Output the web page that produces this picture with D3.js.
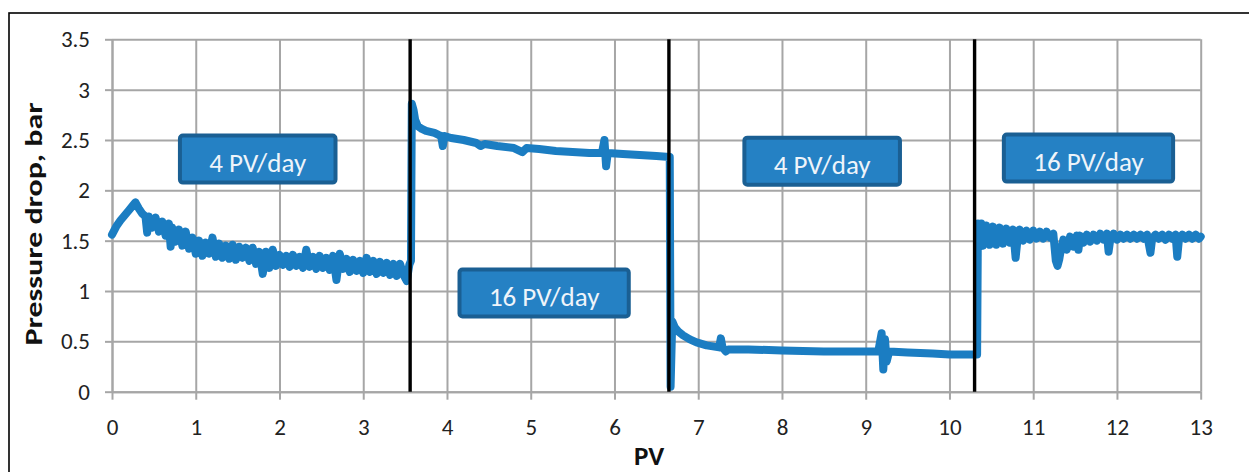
<!DOCTYPE html>
<html>
<head>
<meta charset="utf-8">
<script src="https://cdn.jsdelivr.net/npm/d3@7"></script>
<style>
    body { margin: 0; background: #fff; }
    svg { display: block; font-family: Carlito, Lato, sans-serif; }
</style>
</head>
<body>
<svg id="drawing_region"></svg>
<script>
// Pressure drop [bar] vs injected PV: [PV, bar]
const seg1 = [
    [0.00, 1.56], [0.05, 1.64], [0.10, 1.70], [0.15, 1.75], [0.20, 1.80], [0.25, 1.85], [0.28, 1.88],
    [0.32, 1.82], [0.36, 1.77], [0.40, 1.74], [0.42, 1.58], [0.44, 1.74], [0.48, 1.63], [0.52, 1.73],
    [0.56, 1.59], [0.60, 1.69], [0.64, 1.55], [0.68, 1.67], [0.70, 1.44], [0.72, 1.63], [0.76, 1.49],
    [0.80, 1.61], [0.84, 1.45], [0.88, 1.59], [0.92, 1.42], [0.96, 1.53], [1.00, 1.37], [1.04, 1.50],
    [1.08, 1.35], [1.12, 1.48], [1.16, 1.37], [1.20, 1.53], [1.24, 1.34], [1.28, 1.47], [1.32, 1.33],
    [1.36, 1.45], [1.40, 1.32], [1.44, 1.46], [1.48, 1.31], [1.52, 1.44], [1.56, 1.33], [1.60, 1.43],
    [1.64, 1.30], [1.68, 1.43], [1.72, 1.27], [1.76, 1.39], [1.80, 1.17], [1.84, 1.39], [1.88, 1.23],
    [1.92, 1.41], [1.96, 1.25], [2.00, 1.36], [2.04, 1.26], [2.08, 1.35], [2.12, 1.24], [2.16, 1.36],
    [2.20, 1.25], [2.24, 1.34], [2.28, 1.23], [2.32, 1.41], [2.36, 1.24], [2.40, 1.34], [2.44, 1.22],
    [2.48, 1.35], [2.52, 1.23], [2.56, 1.33], [2.60, 1.21], [2.64, 1.35], [2.68, 1.11], [2.72, 1.37],
    [2.76, 1.22], [2.80, 1.32], [2.84, 1.19], [2.88, 1.31], [2.92, 1.20], [2.96, 1.30], [3.00, 1.18],
    [3.04, 1.33], [3.08, 1.19], [3.12, 1.30], [3.16, 1.17], [3.20, 1.29], [3.24, 1.18], [3.28, 1.28],
    [3.32, 1.16], [3.36, 1.27], [3.40, 1.15], [3.44, 1.27], [3.48, 1.16], [3.52, 1.10], [3.55, 1.26],
    [3.57, 1.30]
];
const seg2 = [
    [3.58, 2.86], [3.60, 2.80], [3.62, 2.70], [3.65, 2.64], [3.70, 2.61], [3.75, 2.59], [3.80, 2.58],
    [3.85, 2.57], [3.90, 2.55], [3.93, 2.54], [3.95, 2.44], [3.97, 2.54], [4.05, 2.52], [4.20, 2.50],
    [4.35, 2.47], [4.40, 2.44], [4.45, 2.46], [4.60, 2.44], [4.80, 2.42], [4.90, 2.38], [4.95, 2.42],
    [5.10, 2.41], [5.30, 2.39], [5.50, 2.38], [5.70, 2.37], [5.85, 2.37], [5.88, 2.50], [5.90, 2.24],
    [5.92, 2.37], [6.10, 2.36], [6.30, 2.35], [6.50, 2.34], [6.66, 2.33]
];
const seg3 = [
    [6.67, 0.05], [6.69, 0.70], [6.72, 0.64], [6.76, 0.60], [6.82, 0.56], [6.90, 0.52], [6.98, 0.49],
    [7.10, 0.46], [7.25, 0.44], [7.27, 0.53], [7.29, 0.44], [7.33, 0.40], [7.36, 0.42], [7.60, 0.42],
    [8.00, 0.41], [8.50, 0.40], [9.00, 0.40], [9.15, 0.40], [9.19, 0.58], [9.21, 0.22], [9.23, 0.52],
    [9.25, 0.30], [9.28, 0.40], [9.50, 0.39], [9.80, 0.38], [10.00, 0.37], [10.30, 0.37], [10.33, 0.37]
];
const seg4 = [
    [10.34, 1.67], [10.36, 1.44], [10.38, 1.67], [10.40, 1.45], [10.44, 1.65], [10.48, 1.46], [10.52, 1.64],
    [10.56, 1.46], [10.60, 1.63], [10.64, 1.47], [10.68, 1.62], [10.72, 1.48], [10.76, 1.61], [10.79, 1.33],
    [10.81, 1.49], [10.84, 1.61], [10.88, 1.50], [10.92, 1.60], [10.96, 1.51], [11.00, 1.60], [11.04, 1.52],
    [11.08, 1.59], [11.12, 1.52], [11.16, 1.59], [11.20, 1.53], [11.24, 1.57], [11.27, 1.30], [11.29, 1.25],
    [11.31, 1.31], [11.33, 1.41], [11.36, 1.51], [11.40, 1.41], [11.44, 1.54], [11.48, 1.44], [11.52, 1.55],
    [11.54, 1.41], [11.56, 1.55], [11.60, 1.48], [11.64, 1.56], [11.68, 1.49], [11.72, 1.56], [11.76, 1.50],
    [11.80, 1.57], [11.84, 1.51], [11.88, 1.57], [11.90, 1.39], [11.92, 1.51], [11.96, 1.57], [12.00, 1.51],
    [12.04, 1.56], [12.08, 1.52], [12.12, 1.56], [12.16, 1.52], [12.20, 1.56], [12.24, 1.52], [12.28, 1.56],
    [12.32, 1.52], [12.36, 1.56], [12.40, 1.38], [12.42, 1.52], [12.46, 1.56], [12.50, 1.52], [12.54, 1.56],
    [12.58, 1.51], [12.62, 1.56], [12.66, 1.52], [12.70, 1.56], [12.72, 1.34], [12.74, 1.51], [12.78, 1.56],
    [12.82, 1.52], [12.86, 1.56], [12.90, 1.52], [12.94, 1.56], [12.98, 1.52], [13.00, 1.54]
];

// rate switch points (PV) and injection rate labels
const switchPV = [3.56, 6.65, 10.30];
const rateLabels = ["4 PV/day", "16 PV/day", "4 PV/day", "16 PV/day"];
const labelPV = [1.74, 5.16, 8.48, 11.66];
const labelDP = [2.31, 0.98, 2.29, 2.32];

const pvTicks = [0, 1, 2, 3, 4, 5, 6, 7, 8, 9, 10, 11, 12, 13];
const dpTicks = [0, 0.5, 1, 1.5, 2, 2.5, 3, 3.5];

class PressureChart {

    constructor(config) {
        this.config = config;
        this.init();
    }

    init() {
        let self = this;

        self.svg = d3.select(self.config.parent)
            .attr('width', self.config.width)
            .attr('height', self.config.height);

        // outer frame (runs off the right and bottom of the picture)
        self.svg.append('rect')
            .attr('x', 9).attr('y', 13)
            .attr('width', 1400).attr('height', 600)
            .attr('fill', 'none')
            .attr('stroke', '#000')
            .attr('stroke-width', 1.6);

        self.chart = self.svg.append('g')
            .attr('transform', `translate(${self.config.margin.left}, ${self.config.margin.top})`);

        self.inner_width = self.config.width - self.config.margin.left - self.config.margin.right;
        self.inner_height = self.config.height - self.config.margin.top - self.config.margin.bottom;

        self.xscale = d3.scaleLinear()
            .domain([0, 13])
            .range([0, self.inner_width]);

        self.yscale = d3.scaleLinear()
            .domain([0, 3.5])
            .range([self.inner_height, 0]);

        self.render();
    }

    render() {
        let self = this;
        const gridColor = '#a6a6a6';

        // grid
        self.chart.append('g')
            .attr('transform', `translate(0, ${self.inner_height})`)
            .call(d3.axisBottom(self.xscale).tickValues(pvTicks).tickSize(-self.inner_height).tickFormat(''))
            .call(g => g.select('.domain').remove())
            .selectAll('line').attr('stroke', gridColor).attr('stroke-width', 2);

        self.chart.append('g')
            .call(d3.axisLeft(self.yscale).tickValues(dpTicks).tickSize(-self.inner_width).tickFormat(''))
            .call(g => g.select('.domain').remove())
            .selectAll('line').attr('stroke', gridColor).attr('stroke-width', 2);

        // axes
        const xaxis = self.chart.append('g')
            .attr('transform', `translate(0, ${self.inner_height})`)
            .call(d3.axisBottom(self.xscale).tickValues(pvTicks).tickSizeInner(8).tickSizeOuter(0).tickPadding(19));
        const yaxis = self.chart.append('g')
            .call(d3.axisLeft(self.yscale).tickValues(dpTicks).tickSizeInner(7).tickSizeOuter(0).tickPadding(15)
                .tickFormat(d => d));

        [xaxis, yaxis].forEach(ax => {
            ax.select('.domain').attr('stroke', gridColor).attr('stroke-width', 2);
            ax.selectAll('line').attr('stroke', gridColor).attr('stroke-width', 2);
            ax.selectAll('text')
                .attr('font-family', 'Carlito, Lato, sans-serif')
                .attr('font-size', '23px')
                .attr('fill', '#222');
        });

        // pressure drop line
        const line = d3.line()
            .x(d => self.xscale(d[0]))
            .y(d => self.yscale(d[1]));

        self.chart.append('path')
            .datum([].concat(seg1, seg2, seg3, seg4))
            .attr('d', line)
            .attr('fill', 'none')
            .attr('stroke', '#1b7dc2')
            .attr('stroke-width', 8)
            .attr('stroke-linejoin', 'round')
            .attr('stroke-linecap', 'round');

        // rate switch lines
        self.chart.selectAll('.switch')
            .data(switchPV)
            .join('line')
            .attr('class', 'switch')
            .attr('x1', d => self.xscale(d))
            .attr('x2', d => self.xscale(d))
            .attr('y1', self.yscale(3.5))
            .attr('y2', self.yscale(0))
            .attr('stroke', '#000')
            .attr('stroke-width', 3.4);

        // rate labels
        rateLabels.forEach((t, i) => {
            const cx = self.xscale(labelPV[i]);
            const cy = self.yscale(labelDP[i]);
            const g = self.chart.append('g');
            const rect = g.append('rect');
            const text = g.append('text')
                .attr('x', cx)
                .attr('y', cy + 13)
                .attr('text-anchor', 'middle')
                .attr('font-size', '27px')
                .attr('fill', '#eef4fa')
                .text(t);
            const w = text.node().getBBox().width + 58;
            rect.attr('x', cx - w / 2)
                .attr('y', cy - 23.5)
                .attr('width', w)
                .attr('height', 47)
                .attr('rx', 3)
                .attr('fill', '#2581c4')
                .attr('stroke', '#1a5f93')
                .attr('stroke-width', 4);
        });

        // axis titles
        self.svg.append('text')
            .attr('transform', 'translate(42, 224) rotate(-90)')
            .attr('text-anchor', 'middle')
            .attr('font-size', '25px')
            .attr('font-weight', 'bold')
            .attr('fill', '#111')
            .attr('textLength', 243)
            .attr('lengthAdjust', 'spacingAndGlyphs')
            .text('Pressure drop, bar');

        self.svg.append('text')
            .attr('x', 649)
            .attr('y', 465)
            .attr('text-anchor', 'middle')
            .attr('font-size', '27px')
            .attr('font-weight', 'bold')
            .attr('fill', '#111')
            .text('PV');
    }
}

const config = {
    parent: '#drawing_region',
    width: 1249,
    height: 472,
    margin: {top: 39.3, right: 48.3, bottom: 80.3, left: 112}
};
const pc = new PressureChart(config);
</script>
</body>
</html>
